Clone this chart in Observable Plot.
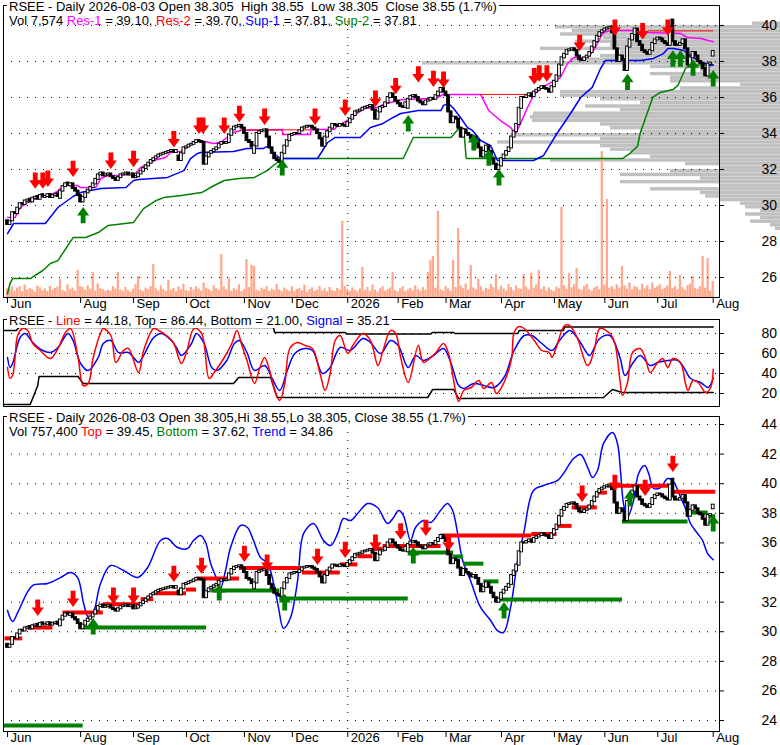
<!DOCTYPE html>
<html><head><meta charset="utf-8">
<script src="https://cdn.jsdelivr.net/npm/d3@7"></script>
<script src="https://cdn.jsdelivr.net/npm/@observablehq/plot@0.6"></script>
<style>
body{margin:0;background:#fff;}
#root{position:relative;width:780px;height:745px;overflow:hidden;background:#fff;font-family:"Liberation Sans",Arial,sans-serif;}
.layer{position:absolute;left:0;}
.hdr{position:absolute;font-size:13px;line-height:14px;white-space:pre;color:#000;padding:0 2px;}
.bg{background:#fff;}
</style></head><body><div id="root"></div>
<script>
// ---------- DATA ----------
const holidays = ["2025-07-04","2025-09-01","2025-11-27","2025-12-25","2026-01-01","2026-01-19","2026-02-16","2026-04-03","2026-05-25","2026-06-19","2026-07-03"];
const monthTicks = [["2025-06","Jun"],["2025-08","Aug"],["2025-09","Sep"],["2025-10","Oct"],["2025-11","Nov"],["2025-12","Dec"],["2026-01","2026"],["2026-02","Feb"],["2026-03","Mar"],["2026-04","Apr"],["2026-05","May"],["2026-06","Jun"],["2026-07","Jul"],["2026-08","Aug"]];

const closes = [
28.95,29.10,29.60,29.55,29.85,30.10,30.05,30.25,30.30,30.20,
30.40,30.45,30.35,30.55,30.50,30.50,30.60,30.45,30.55,30.60,
30.50,30.80,31.05,31.20,31.15,31.20,30.95,30.80,30.55,30.20,
30.45,30.70,30.85,31.00,31.20,31.45,31.70,31.80,31.65,31.70,
31.75,31.60,31.50,31.40,31.55,31.70,31.75,31.80,31.70,31.75,
31.55,31.60,31.75,31.90,32.05,32.20,32.35,32.50,32.60,32.70,
32.80,32.85,32.90,32.95,33.00,33.05,32.95,33.05,32.50,32.90,
33.20,33.25,33.35,33.40,33.50,33.60,33.55,33.50,32.30,32.70,
32.90,33.00,33.10,33.20,33.40,33.50,33.45,33.50,33.90,34.20,
34.35,34.40,34.45,34.30,34.00,33.60,33.50,33.25,33.30,34.00,
34.10,34.15,34.20,33.80,33.20,32.90,32.60,32.50,32.40,32.90,
33.30,33.60,33.90,33.95,34.00,34.00,34.15,34.30,34.35,34.40,
34.40,34.30,34.20,34.00,33.70,33.30,33.80,34.10,34.30,34.50,
34.45,34.40,34.50,34.45,34.40,34.60,34.80,35.00,35.20,35.25,
35.30,35.40,35.45,35.50,35.55,35.30,34.80,35.20,35.45,35.50,
35.70,36.00,36.20,36.00,35.80,35.65,35.50,35.45,35.70,35.90,
36.05,36.10,36.00,35.80,35.70,35.60,35.80,35.85,35.95,35.90,
36.10,36.30,36.50,36.30,36.10,35.20,34.60,34.90,34.80,34.30,
33.80,34.20,34.00,33.90,33.70,33.80,33.60,33.20,32.70,33.00,
33.30,33.00,32.60,32.30,32.00,32.20,32.60,32.80,33.00,33.20,
33.80,34.10,34.50,35.40,36.00,36.00,36.10,36.20,36.05,36.30,
36.40,36.50,36.60,36.50,36.45,36.30,36.60,36.90,37.20,37.80,
38.20,38.40,38.60,38.65,38.70,38.60,38.30,38.10,38.05,38.20,
38.30,38.50,38.80,39.10,39.40,39.60,39.70,39.80,39.85,39.90,
39.60,38.70,38.00,38.30,38.10,37.50,38.80,39.20,39.50,39.80,
39.10,38.90,38.60,38.50,38.40,38.60,39.00,39.20,39.30,39.25,
39.10,39.00,38.90,39.90,39.10,38.90,38.90,39.00,39.20,38.70,
37.80,38.20,38.50,38.30,38.00,37.90,37.60,37.20,37.85,37.91,
38.55];

const opens = [
29.15,28.95,29.15,29.60,29.55,29.85,30.10,30.05,30.25,30.35,
30.20,30.40,30.50,30.35,30.60,30.45,30.50,30.60,30.45,30.55,
30.65,30.40,30.80,31.05,31.25,31.10,31.20,30.95,30.80,30.55,
30.20,30.45,30.70,30.85,31.00,31.20,31.45,31.70,31.80,31.65,
31.70,31.75,31.60,31.50,31.40,31.55,31.70,31.75,31.80,31.70,
31.75,31.55,31.60,31.75,31.90,32.05,32.20,32.35,32.50,32.60,
32.70,32.80,32.85,32.90,32.95,33.00,33.05,32.95,32.75,32.50,
32.90,33.20,33.25,33.35,33.40,33.50,33.60,33.55,33.50,32.30,
32.70,32.90,33.00,33.10,33.20,33.40,33.50,33.45,33.50,33.90,
34.20,34.35,34.40,34.45,34.30,34.00,33.60,33.50,32.90,33.30,
34.00,34.10,34.15,34.20,33.80,33.20,32.90,32.60,32.50,32.40,
32.90,33.30,33.60,33.90,33.95,34.00,34.00,34.15,34.30,34.35,
34.40,34.40,34.30,34.20,34.00,33.70,33.30,33.80,34.10,34.30,
34.50,34.45,34.40,34.50,34.45,34.40,34.60,34.80,35.00,35.20,
35.25,35.30,35.40,35.45,35.50,35.55,35.30,34.80,35.20,35.45,
35.50,35.70,36.00,36.20,36.00,35.80,35.65,35.50,35.45,35.40,
35.90,36.05,36.10,36.00,35.80,35.70,35.60,35.80,35.85,35.95,
35.90,36.10,36.30,36.50,36.30,36.10,35.20,34.60,34.90,34.80,
34.30,33.80,34.20,34.00,33.90,33.70,33.80,33.60,33.20,32.70,
33.00,33.30,33.00,32.60,32.30,32.00,32.20,32.60,32.80,33.00,
33.20,33.80,34.10,34.50,35.40,36.00,36.00,36.10,36.20,36.05,
36.30,36.40,36.50,36.60,36.50,36.45,36.30,36.60,36.90,37.20,
37.80,38.20,38.40,38.60,38.65,38.70,38.60,38.30,38.10,38.05,
38.20,38.30,38.50,38.80,39.10,39.40,39.60,39.70,39.80,39.85,
39.90,39.60,38.70,38.00,38.30,38.10,37.50,38.80,39.20,39.50,
39.80,39.10,38.90,38.60,38.50,38.40,38.60,39.00,39.20,39.30,
39.25,39.10,39.00,38.90,40.30,39.10,38.90,38.90,39.00,39.20,
38.70,37.80,38.20,38.50,38.30,38.00,37.90,37.60,37.20,37.85,
38.305];

// volume in thousands of shares
const volumes = [
420,380,510,300,450,520,280,600,350,430,
380,250,560,470,320,410,290,530,360,440,
500,860,330,270,610,380,450,300,1300,520,
480,350,560,400,1200,310,650,420,380,290,
350,300,520,410,1200,360,280,480,330,250,
400,610,1000,350,290,450,380,520,1580,420,
310,560,380,290,820,350,430,270,510,380,
640,330,290,480,360,520,410,300,700,450,
380,290,560,420,330,2060,510,360,900,300,
420,350,610,280,390,1820,480,1540,1490,360,
300,450,380,520,290,410,330,620,370,280,
450,350,300,510,270,390,440,320,600,250,
380,460,290,350,520,300,410,270,480,330,
290,440,360,3650,520,390,300,460,350,280,
410,1440,330,480,290,600,370,250,420,520,
300,380,460,1200,330,270,420,510,290,360,
440,310,560,380,290,470,350,1200,1780,1970,
450,4130,380,300,520,410,290,1780,480,3310,
560,420,650,350,1540,460,380,880,520,300,
450,380,620,470,1100,350,540,410,300,620,
480,330,560,420,390,1100,500,360,1150,450,
610,1300,390,520,300,460,350,280,500,420,
4320,560,380,1150,470,620,1390,400,350,530,
640,380,300,450,520,380,7000,600,4700,450,
520,380,600,450,1490,560,410,700,380,520,
480,350,630,420,560,380,700,440,520,610,
380,450,560,1250,430,520,380,1050,470,340,
560,650,1000,430,380,520,1970,450,1870,300,
757];

// volume-by-price profile (price level, relative volume)
const profPrice = [40.1,39.9,39.7,39.5,39.3,39.1,38.9,38.7,38.5,38.3,38.1,37.9,37.7,37.5,37.3,37.1,36.9,36.7,36.5,36.3,36.1,35.9,35.7,35.5,35.3,35.1,34.9,34.7,34.5,34.3,34.1,33.9,33.7,33.5,33.3,33.1,32.9,32.7,32.5,32.3,32.1,31.9,31.7,31.5,31.3,31.1,30.9,30.7,30.5,30.3,30.1,29.9,29.7,29.5,29.3,29.1,28.9,28.7];
const profVol   = [28,225,208,220,177,205,170,240,160,180,210,358,130,80,130,110,110,40,100,220,220,180,140,195,160,247,250,248,180,170,140,270,180,283,180,170,150,130,230,95,60,110,160,80,160,60,130,80,75,60,40,35,20,35,20,30,10,5];

// panel 1 indicator lines: [trading-day index, price]
const res1 = [[0,29.33],[3,29.33],[4.4,29.72],[5.2,29.89],[8,30.17],[10.3,30.33],[14.3,30.5],[18.3,30.67],[20.2,30.83],[22.2,31.11],[27.8,31.11],[29,31.0],[35,31.0],[37,31.5],[39.7,31.67],[43.7,31.67],[47.6,31.72],[50.8,31.78],[52.8,32.11],[56,32.33],[59.5,32.56],[62.7,32.67],[64.7,32.94],[68.7,33.0],[70.6,33.17],[73.8,33.5],[76.6,33.61],[81.7,33.44],[84.5,33.5],[89.7,34.06],[92.5,34.17],[109,34.22],[109.2,33.94],[120.2,33.94],[120.4,34.22],[129.4,34.22],[131.3,34.44],[136,34.83],[141.3,35.39],[146.8,35.44],[149.2,35.61],[152,35.72],[154.8,35.83],[157.1,35.89],[166.7,35.94],[170.6,36.0],[173,36.17],[187.7,36.17],[190.9,35.28],[195.6,34.72],[199.6,34.33],[201.6,34.0],[203.6,34.56],[206.3,35.44],[208.7,36.11],[211.5,36.5],[215.5,36.83],[219.4,37.11],[222.2,37.89],[224.6,38.22],[230.2,38.22],[232.5,38.61],[235.3,39.33],[236.5,39.61],[239.3,39.72],[248.4,39.72],[254,39.61],[267,39.56],[269.8,39.33],[275,39.28],[280,39.10]];
const res2 = [[92.5,120.4,34.2],[187.7,206.3,36.17],[254.4,280.2,39.70]];
const sup1 = [[0,28.44],[2.4,29.0],[15,29.0],[20,29.89],[26,30.5],[29,30.72],[37,30.94],[47,31.0],[50,31.39],[52,31.44],[63.5,31.56],[70,31.94],[72.6,32.61],[75.4,32.89],[76.6,32.94],[89.7,33.0],[95,33.17],[101.6,33.17],[103.6,33.33],[105.6,32.89],[108.3,32.61],[123,32.61],[127,33.5],[130,33.78],[140,33.78],[144,34.33],[149,34.56],[153,34.89],[156,35.11],[163,35.28],[172,35.28],[173,35.56],[175,35.67],[177,35.39],[180,34.83],[182.5,34.33],[184.5,34.17],[187.7,33.61],[191.7,33.33],[194.4,32.5],[208.7,32.5],[212.7,32.78],[218,34.0],[223.4,35.11],[227.4,36.0],[232,36.56],[235.3,37.61],[237.3,38.06],[251.2,38.06],[256.3,38.17],[260.3,38.44],[262,38.72],[264.3,38.72],[268.3,38.61],[272.2,38.22],[275.8,37.94],[279,37.78],[280,37.81]];
const sup2 = [[0,25.1],[1,25.67],[2,25.94],[9,25.94],[14,26.39],[17,26.78],[20,26.94],[26,28.22],[31,28.22],[36,28.5],[40,28.89],[50,29.06],[54,29.83],[59,30.28],[62,30.44],[69,30.56],[77,30.72],[82,31.11],[86,31.39],[92,31.5],[98,31.56],[103,31.94],[107,32.39],[109,32.61],[157,32.61],[161,33.78],[176,33.78],[179,34.28],[181,34.28],[182,32.61],[244,32.61],[247,32.9],[250,33.3],[251,34.0],[256,36.0],[259,36.28],[264,36.44],[266,36.67],[269,37.61],[271,37.81],[280,37.81]];
const p1Down = [[11,31.4],[14,31.4],[16,31.5],[26,32.05],[41,32.5],[50,32.6],[66,33.7],[76,34.45],[77.6,34.45],[86,34.45],[92,35.1],[102,34.95],[122,34.95],[134,35.45],[146,35.95],[154,36.65],[163,37.3],[169,37.05],[173,37.0],[209,37.2],[211,37.35],[214,37.35],[227,39.05],[241,39.9],[252,39.7],[262,39.9]];
const p1Up = [[30,29.45],[109,32.1],[159,34.55],[185,33.5],[191,32.65],[195,31.55],[246,36.85],[264,38.15],[267,38.15],[272,37.65],[280,37.05]];

// panel 2 oscillator: [index, value]
const oscLine = [[0,46],[1,35],[2,38],[3,56],[4,78],[6,85],[8,83],[10,70],[13,63],[17,55],[20,65],[23,81],[25,85],[28,56],[30,28],[32,30],[34,56],[37,81],[38,85],[41,78],[43,51],[46,63],[48,65],[52,41],[54,63],[58,85],[60,83],[64,76],[66,70],[69,50],[71,61],[74,85],[77,80],[80,35],[82,41],[86,56],[89,70],[91,83],[93,68],[95,53],[98,30],[100,45],[102,56],[104,43],[106,23],[108,13],[110,30],[112,65],[115,71],[118,68],[121,65],[124,40],[126,23],[128,40],[130,73],[132,78],[135,60],[137,68],[141,80],[144,73],[147,48],[149,63],[152,83],[154,80],[156,56],[159,31],[163,68],[165,51],[168,56],[170,61],[173,70],[175,60],[177,33],[179,12],[181,23],[184,26],[187,33],[189,25],[192,31],[194,20],[197,31],[200,55],[201,81],[203,87],[205,85],[209,73],[212,63],[215,61],[216,56],[218,68],[221,88],[223,88],[226,76],[230,48],[231,50],[233,66],[235,85],[239,80],[241,70],[243,33],[244,18],[246,31],[248,61],[251,65],[253,56],[255,41],[258,51],[260,55],[262,46],[264,55],[267,51],[269,30],[270,23],[272,33],[274,31],[277,21],[279,26],[280,44.18]];
const oscSignal = [[0,56],[1,46],[2,50],[5,76],[7,80],[10,71],[14,63],[17,61],[20,66],[24,80],[26,73],[29,50],[32,43],[36,56],[38,70],[41,73],[44,61],[48,61],[50,56],[52,51],[54,58],[58,76],[61,80],[65,73],[67,66],[69,58],[73,70],[75,80],[78,70],[81,46],[83,43],[87,53],[90,70],[92,73],[95,61],[98,43],[102,48],[105,35],[108,23],[111,43],[114,60],[118,65],[121,63],[125,40],[128,46],[132,66],[136,63],[141,75],[144,71],[148,60],[152,73],[155,68],[159,46],[162,58],[165,53],[169,58],[173,65],[176,50],[179,28],[181,25],[185,30],[189,28],[193,26],[197,36],[201,63],[205,78],[208,78],[212,70],[216,63],[219,73],[223,83],[226,76],[230,60],[231,58],[235,75],[239,78],[243,56],[245,38],[248,50],[251,58],[255,48],[258,51],[262,53],[266,53],[269,43],[271,35],[275,31],[278,26],[280,35.21]];
const oscTop = [[-1.6,83],[3.5,83],[4.5,86],[105.5,86],[106,81],[134,81],[134.5,79.5],[168,79.5],[168.5,81],[177,81],[177.5,80],[202.5,80],[203,83],[220.6,83],[221,86.44],[280,86.44]];
const oscBottom = [[-1.6,9],[9,9],[12,28],[12.5,37],[28,37],[30,30],[89.7,30],[91.7,36],[104.4,36],[107,16],[166.7,16],[168.7,24],[177,24],[179,15],[236.5,16],[240,24],[244,21],[280,21]];

// panel 3: trend band, top/bottom segments [from, to, price], arrows
const trend = [[0,31.43],[2,30.69],[4.4,31.43],[9.9,33.12],[15.9,33.26],[21,33.66],[25,34.0],[27.8,33.66],[30.2,31.91],[32.1,30.96],[33.7,31.09],[36.9,33.26],[40.9,34.47],[46,34.14],[51.6,33.66],[55.6,34.34],[60.7,36.16],[63.5,36.3],[67.5,35.69],[71.4,35.62],[73.8,36.16],[76.6,36.5],[78.6,36.03],[80.6,34.61],[83.3,33.46],[84.5,32.92],[86.5,34.14],[88.5,35.69],[92.5,37.18],[95.2,37.04],[97.6,36.16],[100.4,35.01],[103.2,34.61],[105.6,33.26],[107.5,31.64],[109.5,30.22],[112.3,30.96],[115.1,33.46],[117.5,36.64],[121.4,37.31],[125.4,36.16],[128.2,35.82],[131,36.64],[133.3,37.65],[136.1,37.51],[138.9,37.99],[142.9,38.66],[146.8,38.39],[150.8,37.31],[153.2,37.72],[155.2,38.19],[157.1,37.85],[159.9,36.16],[161.9,37.04],[165.1,37.51],[167.9,37.38],[171.8,38.19],[174.6,38.66],[176.6,38.19],[178.6,36.64],[180.6,34.81],[183.7,33.46],[187.7,31.64],[191.7,30.76],[194.4,30.08],[196.8,29.95],[199.6,31.64],[202.4,34.81],[204.8,36.64],[208.7,39.54],[212.7,39.88],[218.3,40.22],[220.6,40.69],[224.6,41.7],[227.4,41.97],[230.2,41.09],[232.1,40.42],[234.1,40.89],[236.5,42.72],[240.1,43.46],[242,42.72],[243.3,40.69],[244.4,38.66],[246,37.72],[248.4,38.86],[250.4,40.69],[252.8,41.23],[254.4,40.69],[256.3,39.68],[259.1,39.74],[261.9,40.35],[263.9,40.22],[267.1,39.07],[269,38.32],[271,37.31],[273.8,36.64],[275.8,36.16],[277.8,35.28],[280,34.86]];
const topSegs = [[-1,6,29.55],[8,18,30.28],[22,38,31.3],[38,53,31.85],[53,58,32.2],[58,71,32.6],[71,75,32.85],[75,92,33.6],[92,117,34.3],[117,132,34.0],[132,139,34.55],[139,145,35.1],[145,149,35.6],[149,172,35.8],[172,208,36.5],[208,218,36.6],[218,224,37.15],[224,234,38.4],[234,238,39.4],[238,263,39.87],[264,281,39.45]];
const botSegs = [[-1.6,30,23.66],[30,79,30.28],[81,108,32.78],[108,159,32.24],[159,177,35.35],[177,181,35.08],[181,189,34.6],[189,195,33.4],[195,244,32.18],[244,270,37.45],[270,278,38.05],[278,281,37.8]];
const p3Down = [[12,31.64],[26,32.24],[42,32.45],[50,32.45],[66,33.93],[77,34.47],[94,35.28],[103,34.68],[123,35.08],[134,35.55],[146,36.03],[156,36.8],[166,37.04],[175,36.03],[228,39.34],[241,40.08],[253,39.74],[264,41.36]];
const p3Up = [[34,30.35],[84,32.65],[110,31.97],[161,35.15],[197,31.43],[247,39.0],[280,37.31]];

const p1Ticks = [26,28,30,32,34,36,38,40];
const p2Ticks = [20,40,60,80];
const p3Ticks = [24,26,28,30,32,34,36,38,40,42,44];

// ---------- BUILD ----------
const dates = [];
{ let t = Date.UTC(2025,5,20);
  while (dates.length < closes.length) {
    const dt = new Date(t), s = dt.toISOString().slice(0,10), wd = dt.getUTCDay();
    if (wd !== 0 && wd !== 6 && !holidays.includes(s)) dates.push(s);
    t += 86400000;
  } }
const months = monthTicks.map(([ym, label]) => ({i: dates.findIndex(s => s.startsWith(ym)), label})).filter(d => d.i >= 0);
const yearIdx = months.find(d => d.label === "2026").i;

const rows = closes.map((c, i) => ({i, o: opens[i], c, v: volumes[i]}));
const upRows = rows.filter(d => d.c >= d.o), dnRows = rows.filter(d => d.c < d.o);
const prof = profPrice.map((p, k) => ({p, v: profVol[k]}));

const arrowDown = {draw(ctx, size){const s=Math.sqrt(size/Math.PI)/7;ctx.moveTo(-2*s,-6.5*s);ctx.lineTo(2*s,-6.5*s);ctx.lineTo(2*s,0);ctx.lineTo(5*s,0);ctx.lineTo(0,7*s);ctx.lineTo(-5*s,0);ctx.lineTo(-2*s,0);ctx.closePath();}};
const arrowUp = {draw(ctx, size){const s=Math.sqrt(size/Math.PI)/7;ctx.moveTo(-2*s,6.5*s);ctx.lineTo(2*s,6.5*s);ctx.lineTo(2*s,0);ctx.lineTo(5*s,0);ctx.lineTo(0,-7*s);ctx.lineTo(-5*s,0);ctx.lineTo(-2*s,0);ctx.closePath();}};

const RED="#ff0000", GREEN="#008000", BLUE="#0000ff", MAG="#ff00ff", SALMON="#ffa98c", GRAY="#c0c0c0";
const XD = [-1.6, 282.5];
const style = {background:"transparent", fontFamily:"'Liberation Sans', Arial, sans-serif", fontSize:"13px", overflow:"visible", color:"#000"};
const fx = d => d[0], fy = d => d[1];

function candles(){
  return [
    Plot.rect(dnRows, {x1: d=>d.i-0.55, x2: d=>d.i+0.55, y1:"o", y2:"c", fill:"#000", stroke:"#000", strokeWidth:1, insetTop:-0.5, insetBottom:-0.5}),
    Plot.rect(upRows, {x1: d=>d.i-0.55, x2: d=>d.i+0.55, y1:"o", y2:"c", fill:"#fff", stroke:"#000", strokeWidth:1, insetTop:-0.5, insetBottom:-0.5})
  ];
}
function grid(ticks, vline){
  const m = [Plot.ruleY(ticks, {y: d=>d, stroke:"#000", strokeDasharray:"1,7"})];
  if (vline) m.push(Plot.ruleX([yearIdx], {x: d=>d, stroke:"#000", strokeDasharray:"1,7"}));
  return m;
}
function rightAxis(ticks){
  return Plot.axisY(ticks, {anchor:"right", label:null, tickSize:4, tickPadding:38, fontSize:14, tickFormat: d=>String(d)});
}
function bottomAxis(){
  return [
    Plot.axisX(months.map(d=>d.i), {anchor:"bottom", label:null, tickSize:6, tickFormat: ()=>""}),
    Plot.text(months, {x:"i", text:"label", frameAnchor:"bottom", textAnchor:"start", lineAnchor:"top", dx:3, dy:1, fontSize:13})
  ];
}
function place(el, top){ const w=document.createElement("div"); w.className="layer"; w.style.top=top+"px"; w.appendChild(el); root.appendChild(w); }
const root = document.getElementById("root");

// Panel 1: profile layer
place(Plot.plot({width:780, height:318, marginTop:5, marginBottom:21, marginLeft:500, marginRight:0, style,
  x:{domain:[0,280], reverse:true, axis:null}, y:{domain:[24.89,41.11], axis:null},
  marks:[Plot.rect(prof, {x1:0, x2:"v", y1: d=>d.p-0.095, y2: d=>d.p+0.095, fill:GRAY})]}), 0);
// Panel 1: volume layer
place(Plot.plot({width:780, height:318, marginTop:5, marginBottom:21, marginLeft:3, marginRight:61, style,
  x:{domain:XD, axis:null}, y:{domain:[0,14000], axis:null},
  marks:[Plot.rect(rows, {x1: d=>d.i-0.45, x2: d=>d.i+0.45, y1:0, y2:"v", fill:SALMON})]}), 0);
// Panel 1: price layer
place(Plot.plot({width:780, height:318, marginTop:5, marginBottom:21, marginLeft:3, marginRight:61, style,
  x:{domain:XD, axis:null}, y:{domain:[24.89,41.11], axis:null},
  marks:[
    ...grid(p1Ticks, true),
    Plot.line(sup2, {x:fx, y:fy, stroke:GREEN}),
    Plot.line(sup1, {x:fx, y:fy, stroke:BLUE}),
    Plot.line(res1, {x:fx, y:fy, stroke:MAG}),
    Plot.ruleY(res2, {x1: d=>d[0], x2: d=>d[1], y: d=>d[2], stroke:RED}),
    ...candles(),
    Plot.dot(p1Down, {x:fx, y:fy, r:8.5, symbol:arrowDown, fill:RED, stroke:"none"}),
    Plot.dot(p1Up, {x:fx, y:fy, r:8.5, symbol:arrowUp, fill:GREEN, stroke:"none"}),
    Plot.frame({stroke:"#000"}),
    rightAxis(p1Ticks),
    ...bottomAxis()
  ]}), 0);

// Panel 2
place(Plot.plot({width:780, height:100, marginTop:7, marginBottom:6, marginLeft:3, marginRight:61, style,
  x:{domain:XD, axis:null}, y:{domain:[7,94], axis:null},
  marks:[
    ...grid(p2Ticks, false),
    Plot.line(oscTop, {x:fx, y:fy, stroke:"#000"}),
    Plot.line(oscBottom, {x:fx, y:fy, stroke:"#000"}),
    Plot.line(oscSignal, {x:fx, y:fy, stroke:BLUE, curve:"catmull-rom"}),
    Plot.line(oscLine, {x:fx, y:fy, stroke:RED, curve:"catmull-rom"}),
    Plot.frame({stroke:"#000"}),
    rightAxis(p2Ticks)
  ]}), 312);

// Panel 3
place(Plot.plot({width:780, height:335, marginTop:6, marginBottom:14, marginLeft:3, marginRight:61, style,
  x:{domain:XD, axis:null}, y:{domain:[23.26,44.54], axis:null},
  marks:[
    ...grid(p3Ticks, true),
    Plot.line(trend, {x:fx, y:fy, stroke:BLUE, curve:"catmull-rom"}),
    Plot.ruleY(topSegs, {x1: d=>d[0], x2: d=>d[1], y: d=>d[2], stroke:RED, strokeWidth:4}),
    Plot.ruleY(botSegs, {x1: d=>d[0], x2: d=>d[1], y: d=>d[2], stroke:GREEN, strokeWidth:4}),
    ...candles(),
    Plot.dot(p3Down, {x:fx, y:fy, r:8.5, symbol:arrowDown, fill:RED, stroke:"none"}),
    Plot.dot(p3Up, {x:fx, y:fy, r:8.5, symbol:arrowUp, fill:GREEN, stroke:"none"}),
    Plot.frame({stroke:"#000"}),
    rightAxis(p3Ticks),
    ...bottomAxis()
  ]}), 410);

// Headers
function hdr(html, left, top, bg){ const d=document.createElement("div"); d.className="hdr"+(bg?" bg":""); d.style.left=left+"px"; d.style.top=top+"px"; d.innerHTML=html; root.appendChild(d); }
const c = (col, t) => `<span style="color:${col}">${t}</span>`;
hdr("RSEE - Daily 2026-08-03 Open 38.305  High 38.55  Low 38.305  Close 38.55 (1.7%)", 7, 0, true);
hdr(`Vol 7,574 ${c(MAG,"Res-1")} = 39.10, ${c(RED,"Res-2")} = 39.70, ${c(BLUE,"Sup-1")} = 37.81, ${c(GREEN,"Sup-2")} = 37.81`, 7, 14, false);
hdr(`RSEE - ${c(RED,"Line")} = 44.18, Top = 86.44, Bottom = 21.00, ${c(BLUE,"Signal")} = 35.21`, 7, 314, true);
hdr("RSEE - Daily 2026-08-03 Open 38.305,Hi 38.55,Lo 38.305, Close 38.55 (1.7%)", 7, 411, true);
hdr(`Vol 757,400 ${c(RED,"Top")} = 39.45, ${c(GREEN,"Bottom")} = 37.62, ${c(BLUE,"Trend")} = 34.86`, 7, 425, false);
</script></body></html>
